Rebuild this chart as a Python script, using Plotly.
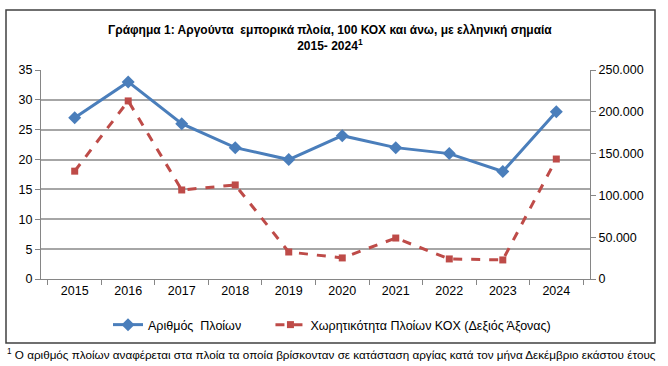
import plotly.graph_objects as go

years = ["2015", "2016", "2017", "2018", "2019", "2020", "2021", "2022", "2023", "2024"]
ships = [27, 33, 26, 22, 20, 24, 22, 21, 18, 28]
tonnage = [129000, 213000, 106500, 112500, 32300, 25200, 49000, 24000, 22800, 143500]

left_ticks = [0, 5, 10, 15, 20, 25, 30, 35]
right_ticks = [0, 50000, 100000, 150000, 200000, 250000]

FONT = "Liberation Sans"
TXT = "#000000"

fig = go.Figure()
fig.add_trace(go.Scatter(
    x=years, y=ships, name="Αριθμός\u00a0\u00a0Πλοίων" + "\u00a0" * 7, mode="lines+markers",
    line=dict(color="#4a7ebb", width=3),
    marker=dict(symbol="diamond", size=10, color="#4a7ebb"),
    yaxis="y"))
fig.add_trace(go.Scatter(
    x=years, y=tonnage, name="Χωρητικότητα Πλοίων ΚΟΧ (Δεξιός Άξονας)", mode="lines+markers",
    line=dict(color="#be4b48", width=3, dash="dash"),
    marker=dict(symbol="square", size=7, color="#be4b48"),
    yaxis="y2"))

L, R, T, B = 41, 590, 70, 279
W, H = 668, 366
pw, ph = R - L, B - T

def px(x):
    return (x - L) / pw

def py(y):
    return (B - y) / ph

fig.update_layout(
    width=W, height=H,
    margin=dict(l=L, r=W - R, t=T, b=H - B, pad=0),
    paper_bgcolor="white", plot_bgcolor="white",
    separators=",.",
    font=dict(family=FONT, size=12, color=TXT),
    showlegend=True,
    legend=dict(orientation="h", x=px(332), xanchor="center", y=py(325), yanchor="middle",
                font=dict(size=12.5), itemwidth=30, traceorder="normal",
                bgcolor="rgba(0,0,0,0)"),
    xaxis=dict(type="category", showgrid=False, showline=True, linecolor="#868686", linewidth=1,
               ticks="outside", tickson="boundaries", ticklen=5, tickcolor="#868686",
               tickfont=dict(size=12.5), fixedrange=True),
    yaxis=dict(range=[0, 35], tickvals=left_ticks, showgrid=True, gridcolor="#a6a6a6", gridwidth=1.5,
               showline=True, linecolor="#868686", linewidth=1, ticks="outside", ticklen=5,
               tickcolor="#868686", zeroline=False, tickfont=dict(size=12.5)),
    yaxis2=dict(range=[0, 250000], tickvals=right_ticks, tickformat=",d", overlaying="y", side="right",
                showgrid=False, showline=True, linecolor="#868686", linewidth=1, ticks="outside",
                ticklen=5, tickcolor="#868686", zeroline=False, tickfont=dict(size=12.5)),
)

fig.add_shape(type="rect", xref="paper", yref="paper",
              x0=px(6), x1=px(655), y0=py(343), y1=py(10),
              line=dict(color="#404040", width=1.5), fillcolor="rgba(0,0,0,0)", layer="below")

fig.add_annotation(xref="paper", yref="paper", x=px(330), y=py(38), xanchor="center", yanchor="middle",
                   text="<b>Γράφημα 1: Αργούντα  εμπορικά πλοία, 100 ΚΟΧ και άνω, με ελληνική σημαία</b><br><b>2015- 2024<sup>1</sup></b>",
                   showarrow=False, font=dict(size=12), align="center")

fig.add_annotation(xref="paper", yref="paper", x=px(5), y=py(354), xanchor="left", yanchor="middle",
                   text="<sup>1</sup> Ο αριθμός πλοίων αναφέρεται στα πλοία τα οποία βρίσκονταν σε κατάσταση αργίας κατά τον μήνα Δεκέμβριο εκάστου έτους",
                   showarrow=False, font=dict(size=11.7))

fig.write_html("out.html", config={"displayModeBar": False},
               post_script="document.body.style.margin='0';document.body.style.overflow='hidden';")
